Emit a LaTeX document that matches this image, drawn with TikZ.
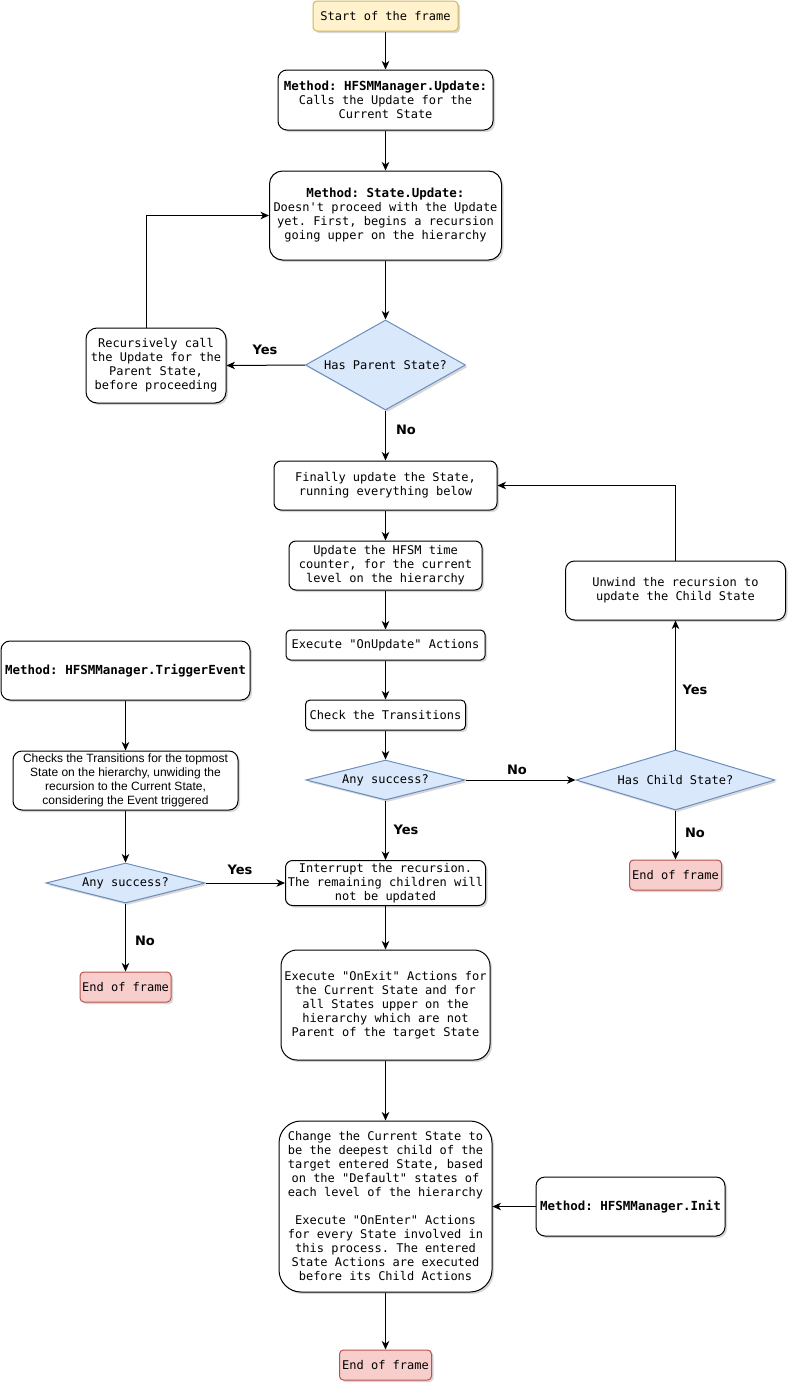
\documentclass[tikz,border=0pt]{standalone}
\usepackage{fontspec}
\setmonofont{DejaVu Sans Mono}
\newfontfamily\lblfont{DejaVu Sans}
\newfontfamily\arialf{Liberation Sans}
\usetikzlibrary{shapes.geometric,shadows,arrows.meta}
\definecolor{startfill}{HTML}{FFF2CC}
\definecolor{startdraw}{HTML}{D6B656}
\definecolor{diafill}{HTML}{DAE8FC}
\definecolor{diadraw}{HTML}{6C8EBF}
\definecolor{endfill}{HTML}{F8CECC}
\definecolor{enddraw}{HTML}{B85450}
\newcommand{\mbold}[1]{{\fontsize{12.5}{14}\selectfont\bfseries #1}}
\tikzset{
  every node/.style={font=\ttfamily\fontsize{12}{14}\selectfont, align=center, inner sep=0pt},
  shad/.style={drop shadow={shadow xshift=2pt,shadow yshift=-2pt,opacity=0.22,fill=black!70}},
  box/.style={draw=black, fill=white, line width=1pt, rounded corners=#1, shad},
  box/.default=9pt,
  startbox/.style={draw=startdraw, fill=startfill, line width=1pt, rounded corners=4pt, shad},
  endbox/.style={draw=enddraw, fill=endfill, line width=1pt, rounded corners=4pt, shad},
  dia/.style={diamond, draw=diadraw, fill=diafill, line width=1pt, shad},
  lbl/.style={font=\lblfont\bfseries\fontsize{13}{15}\selectfont},
  arr/.style={-{Stealth[length=8.5pt,width=7.5pt,inset=2.5pt]}, line width=1pt},
}
\begin{document}
\begin{tikzpicture}[x=1pt,y=-1pt]
\useasboundingbox (0,0) rectangle (797,1392);
\fill[white] (0,0) rectangle (797,1392);

% central column
\node[startbox, minimum width=145pt, minimum height=30pt] (start) at (385.5,16) {Start of the frame};
\node[box=9pt, minimum width=215pt, minimum height=60pt] (mgr) at (385.5,100)
  {\mbold{Method: HFSMManager.Update:}\\Calls the Update for the\\Current State};
\node[box=13pt, minimum width=232pt, minimum height=89pt] (su) at (385.5,215.5)
  {\mbold{Method: State.Update:}\\Doesn't proceed with the Update\\yet. First, begins a recursion\\going upper on the hierarchy};
\node[dia, aspect=1.78, minimum width=160pt, minimum height=90pt] (hp) at (385.5,365) {Has Parent State?};
\node[box=11pt, minimum width=140pt, minimum height=75pt] (rec) at (156,365.5)
  {Recursively call\\the Update for the\\Parent State,\\before proceeding};
\node[box=7pt, minimum width=223pt, minimum height=49pt] (fin) at (385.5,485.5)
  {Finally update the State,\\running everything below};
\node[box=7pt, minimum width=193pt, minimum height=49pt] (tc) at (385.5,565.5)
  {Update the HFSM time\\counter, for the current\\level on the hierarchy};
\node[box=4.5pt, minimum width=199pt, minimum height=30pt] (onupd) at (385.5,645) {Execute "OnUpdate" Actions};
\node[box=4.5pt, minimum width=160pt, minimum height=30pt] (chk) at (385.5,715) {Check the Transitions};
\node[dia, aspect=4, minimum width=159pt, minimum height=40pt] (as) at (385.5,780) {Any success?};
\node[box=7pt, minimum width=200pt, minimum height=45pt] (intr) at (385.5,883)
  {Interrupt the recursion.\\The remaining children will\\not be updated};
\node[box=16pt, minimum width=209pt, minimum height=110pt] (onexit) at (385.5,1005)
  {Execute "OnExit" Actions for\\the Current State and for\\all States upper on the\\hierarchy which are not\\Parent of the target State};
\node[box=22pt, minimum width=213pt, minimum height=171pt] (chg) at (385.5,1206.5)
  {Change the Current State to\\be the deepest child of the\\target entered State, based\\on the "Default" states of\\each level of the hierarchy\\[14pt]Execute "OnEnter" Actions\\for every State involved in\\this process. The entered\\State Actions are executed\\before its Child Actions};
\node[endbox, minimum width=92pt, minimum height=30pt] (endB) at (385.5,1365) {End of frame};
\node[box=9pt, minimum width=189pt, minimum height=59pt] (init) at (630.5,1206.5) {\mbold{Method: HFSMManager.Init}};

% right column
\node[dia, aspect=3.3, minimum width=199pt, minimum height=60pt] (hcs) at (675.5,780) {Has Child State?};
\node[box=9pt, minimum width=220pt, minimum height=59pt] (unw) at (675.5,590.5)
  {Unwind the recursion to\\update the Child State};
\node[endbox, minimum width=92pt, minimum height=30pt] (endR) at (675.5,875) {End of frame};

% left column
\node[box=9pt, minimum width=249pt, minimum height=59pt] (te) at (125.5,670.5) {\mbold{Method: HFSMManager.TriggerEvent}};
\node[box=9pt, minimum width=225pt, minimum height=59pt, font=\arialf\fontsize{12}{14}\selectfont] (chks) at (125.5,780.5)
  {Checks the Transitions for the topmost\\State on the hierarchy, unwiding the\\recursion to the Current State,\\considering the Event triggered};
\node[dia, aspect=4, minimum width=159pt, minimum height=40pt] (as2) at (125.5,883) {Any success?};
\node[endbox, minimum width=91pt, minimum height=30pt] (endL) at (125.5,987) {End of frame};

% connectors
\draw[arr] (start) -- (mgr);
\draw[arr] (mgr) -- (su);
\draw[arr] (su) -- (hp);
\draw[arr] (hp.west) -- (rec.east);
\draw[arr] ([xshift=-10pt]rec.north) |- (su.west);
\draw[arr] (hp.south) -- (fin);
\draw[arr] (fin) -- (tc);
\draw[arr] (tc) -- (onupd);
\draw[arr] (onupd) -- (chk);
\draw[arr] (chk) -- (as.north);
\draw[arr] (as.east) -- (hcs.west);
\draw[arr] (as.south) -- (intr);
\draw[arr] (hcs.north) -- (unw.south);
\draw[arr] (unw.north) |- (fin.east);
\draw[arr] (hcs.south) -- (endR);
\draw[arr] (intr) -- (onexit);
\draw[arr] (onexit) -- (chg);
\draw[arr] (chg) -- (endB);
\draw[arr] (init.west) -- (chg.east);
\draw[arr] (te) -- (chks);
\draw[arr] (chks) -- (as2.north);
\draw[arr] (as2.east) -- (intr.west);
\draw[arr] (as2.south) -- (endL);

% labels
\node[lbl] (l1) at (265,350) {Yes};
\node[lbl] (l2) at (406,430) {No};
\node[lbl] (l3) at (517,770) {No};
\node[lbl] (l4) at (406,830) {Yes};
\node[lbl] (l5) at (695,690) {Yes};
\node[lbl] (l6) at (695,833) {No};
\node[lbl] (l7) at (240,870) {Yes};
\node[lbl] (l8) at (145,941) {No};
\end{tikzpicture}
\end{document}
